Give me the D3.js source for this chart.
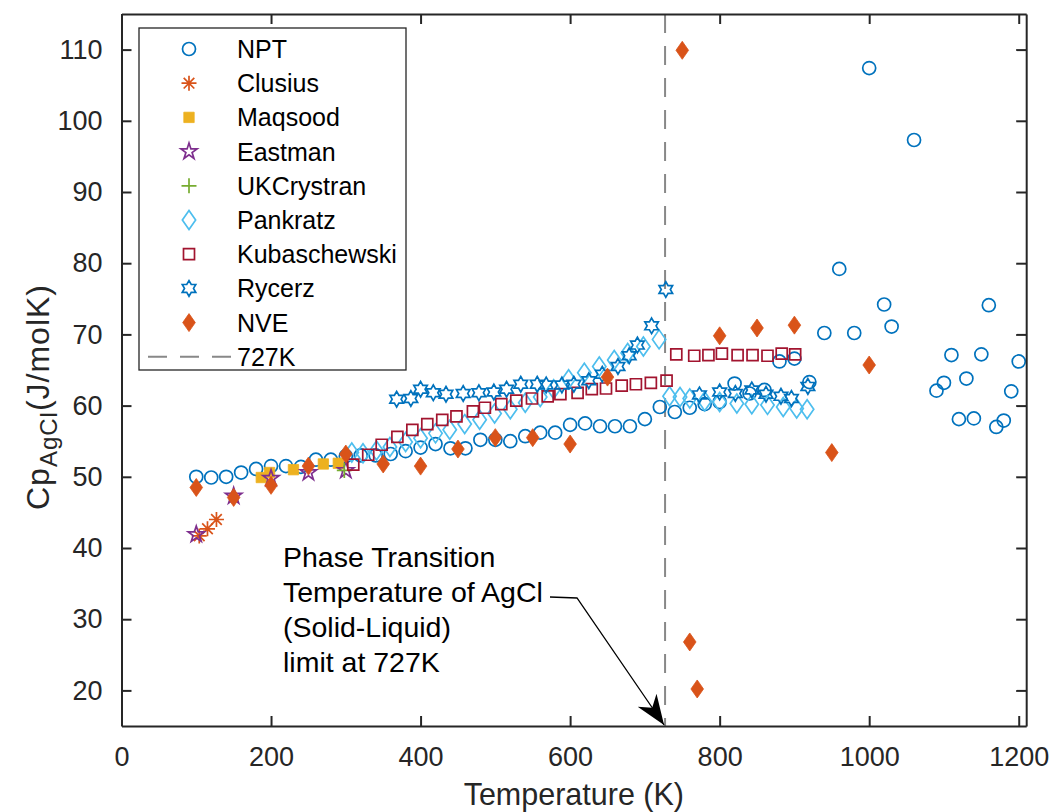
<!DOCTYPE html>
<html>
<head>
<meta charset="utf-8">
<script src="https://cdn.jsdelivr.net/npm/d3@7"></script>
<style>
  body { margin: 0; background: #fff; }
  svg { display: block; font-family: "Liberation Sans", Arial, sans-serif; }
</style>
</head>
<body>
<svg id="chart"></svg>
<script>
// data (T in K, Cp in J/molK)
const nptT = [100, 120, 140, 160, 180, 200, 220, 240, 260, 280, 300, 320, 340, 360, 380, 400, 420, 440, 460, 480, 500, 520, 540, 560, 580, 600, 620, 640, 660, 680, 700, 720, 740, 760, 780, 800, 820, 840, 860, 880, 900, 920, 940, 960, 980, 1000, 1020, 1030, 1060, 1090, 1100, 1110, 1120, 1130, 1140, 1150, 1160, 1170, 1180, 1190, 1200];
const nptCp = [50.0, 49.9, 50.0, 50.6, 51.1, 51.5, 51.5, 51.4, 52.4, 52.4, 52.9, 53.0, 53.0, 53.2, 53.6, 54.1, 54.6, 54.0, 54.0, 55.2, 55.2, 55.0, 55.7, 56.2, 56.2, 57.3, 57.5, 57.1, 57.1, 57.1, 58.1, 59.8, 59.1, 59.7, 60.2, 60.5, 63.1, 61.7, 62.2, 66.2, 66.6, 63.3, 70.2, 79.2, 70.2, 107.4, 74.2, 71.1, 97.3, 62.1, 63.2, 67.1, 58.1, 63.8, 58.2, 67.2, 74.1, 57.0, 57.9, 62.0, 66.2];

const clusiusT = [104, 115, 127];
const clusiusCp = [41.7, 42.7, 44.0];

const maqsoodT = [187, 198, 230, 270, 290];
const maqsoodCp = [49.9, 50.6, 51.0, 51.8, 51.9];

const eastmanT = [100, 150, 200, 250, 300];
const eastmanCp = [41.9, 47.3, 49.8, 50.6, 50.9];

const ukT = [298];
const ukCp = [50.9];

const pankratzT = [308, 323, 341, 359, 380, 400, 420, 439, 459, 479, 499, 520, 540, 560, 578, 598, 619, 639, 659, 677, 698, 719, 733, 747, 760, 780, 800, 823, 843, 864, 885, 903, 917];
const pankratzCp = [53.4, 53.3, 53.7, 54.2, 54.9, 55.4, 56.1, 56.6, 57.4, 58.0, 58.9, 59.5, 60.4, 61.2, 62.3, 63.7, 64.6, 65.5, 66.4, 67.4, 68.3, 69.3, 61.3, 61.2, 61.0, 60.6, 60.5, 60.3, 60.2, 60.1, 59.8, 59.6, 59.5];

const kubT = [310, 330, 348, 369, 389, 409, 429, 448, 470, 486, 508, 528, 549, 570, 587, 610, 629, 648, 669, 688, 708, 729, 742, 766, 785, 803, 824, 844, 864, 883, 901];
const kubCp = [51.7, 53.1, 54.5, 55.6, 56.6, 57.4, 58.0, 58.5, 59.2, 59.7, 60.2, 60.7, 61.0, 61.3, 61.6, 61.8, 62.3, 62.4, 62.8, 63.0, 63.2, 63.5, 67.2, 67.0, 67.1, 67.3, 67.1, 67.1, 67.0, 67.3, 67.2];

const rycerzT = [368, 387, 400, 417, 434, 457, 478, 498, 515, 534, 556, 568, 589, 605, 625, 643, 664, 679, 690, 709, 728, 773, 800, 821, 843, 862, 882, 896, 918];
const rycerzCp = [60.9, 61.0, 62.3, 61.8, 61.6, 61.7, 61.8, 61.9, 62.3, 63.0, 63.0, 62.9, 62.9, 63.0, 63.5, 64.4, 65.5, 67.0, 68.5, 71.2, 76.3, 61.5, 61.9, 61.7, 62.2, 61.6, 61.3, 61.0, 62.7];

const nveT = [100, 150, 200, 250, 300, 350, 400, 450, 500, 550, 600, 650, 750, 760, 770, 800, 850, 900, 950, 1000];
const nveCp = [48.5, 47.1, 48.8, 51.5, 53.2, 51.8, 51.5, 53.9, 55.5, 55.5, 54.6, 64.0, 109.9, 26.8, 20.2, 69.8, 70.9, 71.3, 53.4, 65.7];

const transitionT = 727;
const xTicks = [0, 200, 400, 600, 800, 1000, 1200];
const yTicks = [20, 30, 40, 50, 60, 70, 80, 90, 100, 110];
const noteLines = ["Phase Transition", "Temperature of AgCl", "(Solid-Liquid)", "limit at 727K"];

const width = 1052, height = 812;
const svg = d3.select("#chart").attr("width", width).attr("height", height);

const x = d3.scaleLinear().domain([0, 1210]).range([121.5, 1026.2]);
const y = d3.scaleLinear().domain([15, 115]).range([726, 14]);
const axisColor = "#262626";

// custom marker shapes, size = radius squared
const sym = {
  circle: { draw(c, s) { const r = Math.sqrt(s); c.moveTo(r, 0); c.arc(0, 0, r, 0, 2 * Math.PI); } },
  square: { draw(c, s) { const r = Math.sqrt(s); c.rect(-r, -r, 2 * r, 2 * r); } },
  diamond: { draw(c, s) { const r = Math.sqrt(s), w = r * 0.7; c.moveTo(0, -r); c.lineTo(w, 0); c.lineTo(0, r); c.lineTo(-w, 0); c.closePath(); } },
  plus: { draw(c, s) { const r = Math.sqrt(s); c.moveTo(-r, 0); c.lineTo(r, 0); c.moveTo(0, -r); c.lineTo(0, r); } },
  asterisk: { draw(c, s) {
    const r = Math.sqrt(s);
    for (let i = 0; i < 4; i++) {
      const a = i * Math.PI / 4;
      c.moveTo(-r * Math.cos(a), -r * Math.sin(a)); c.lineTo(r * Math.cos(a), r * Math.sin(a));
    }
  } },
  star: { draw(c, s) {
    const R = Math.sqrt(s), ri = R * 0.382;
    for (let i = 0; i < 10; i++) {
      const a = -Math.PI / 2 + i * Math.PI / 5, rr = i % 2 ? ri : R;
      i ? c.lineTo(rr * Math.cos(a), rr * Math.sin(a)) : c.moveTo(rr * Math.cos(a), rr * Math.sin(a));
    }
    c.closePath();
  } },
  hexagram: { draw(c, s) {
    const R = Math.sqrt(s), ri = R * 0.577;
    for (let i = 0; i < 12; i++) {
      const a = -Math.PI / 2 + i * Math.PI / 6, rr = i % 2 ? ri : R;
      i ? c.lineTo(rr * Math.cos(a), rr * Math.sin(a)) : c.moveTo(rr * Math.cos(a), rr * Math.sin(a));
    }
    c.closePath();
  } }
};

const series = [
  { name: "NPT", T: nptT, Cp: nptCp, type: sym.circle, r: 6.5, color: "#0072BD", fill: false },
  { name: "Clusius", T: clusiusT, Cp: clusiusCp, type: sym.asterisk, r: 7.5, color: "#D95319", fill: false },
  { name: "Maqsood", T: maqsoodT, Cp: maqsoodCp, type: sym.square, r: 5.2, color: "#EDB120", fill: true },
  { name: "Eastman", T: eastmanT, Cp: eastmanCp, type: sym.star, r: 8.5, color: "#7E2F8E", fill: false },
  { name: "UKCrystran", T: ukT, Cp: ukCp, type: sym.plus, r: 7.5, color: "#77AC30", fill: false },
  { name: "Pankratz", T: pankratzT, Cp: pankratzCp, type: sym.diamond, r: 9.5, color: "#4DBEEE", fill: false },
  { name: "Kubaschewski", T: kubT, Cp: kubCp, type: sym.square, r: 5.5, color: "#A2142F", fill: false },
  { name: "Rycerz", T: rycerzT, Cp: rycerzCp, type: sym.hexagram, r: 7.8, color: "#0072BD", fill: false },
  { name: "NVE", T: nveT, Cp: nveCp, type: sym.diamond, r: 9, color: "#D95319", fill: true }
];

const symbolPath = s => d3.symbol().type(s.type).size(s.r * s.r)();

// transition line
svg.append("line")
  .attr("x1", x(transitionT)).attr("x2", x(transitionT))
  .attr("y1", y(115)).attr("y2", y(15))
  .attr("stroke", "#888").attr("stroke-width", 2)
  .attr("stroke-dasharray", "19,13");

// markers
series.forEach(s => {
  svg.append("g")
    .selectAll("path")
    .data(s.T.map((t, i) => ({ t, cp: s.Cp[i] })))
    .join("path")
    .attr("transform", d => `translate(${x(d.t)},${y(d.cp)})`)
    .attr("d", symbolPath(s))
    .attr("fill", s.fill ? s.color : "none")
    .attr("stroke", s.color)
    .attr("stroke-width", s.fill ? 0.8 : 1.7);
});

// axes box with inward ticks, mirrored
const fs = 27;
const gx = svg.append("g").attr("transform", `translate(0,${y(15)})`)
  .call(d3.axisBottom(x).tickValues(xTicks).tickFormat(d3.format("d")).tickSizeInner(-10).tickSizeOuter(0).tickPadding(21));
const gxTop = svg.append("g").attr("transform", `translate(0,${y(115)})`)
  .call(d3.axisTop(x).tickValues(xTicks).tickSizeInner(-10).tickSizeOuter(0).tickFormat(""));
const gy = svg.append("g").attr("transform", `translate(${x(0)},0)`)
  .call(d3.axisLeft(y).tickValues(yTicks).tickSizeInner(-10).tickSizeOuter(0).tickPadding(19));
const gyRight = svg.append("g").attr("transform", `translate(${x(1210)},0)`)
  .call(d3.axisRight(y).tickValues(yTicks).tickSizeInner(-10).tickSizeOuter(0).tickFormat(""));

[gx, gxTop, gy, gyRight].forEach(g => {
  g.select(".domain").attr("stroke", axisColor).attr("stroke-width", 2);
  g.selectAll(".tick line").attr("stroke", axisColor).attr("stroke-width", 2);
  g.selectAll(".tick text").attr("fill", axisColor).style("font-size", fs + "px")
    .style("font-family", '"Liberation Sans", Arial, sans-serif');
});

// axis labels
svg.append("text")
  .attr("x", (x(0) + x(1210)) / 2).attr("y", 805)
  .attr("text-anchor", "middle").attr("fill", axisColor)
  .style("font-size", "30.5px")
  .text("Temperature (K)");

const yl = svg.append("text")
  .attr("transform", `translate(49,${(y(15) + y(115)) / 2 + 27}) rotate(-90)`)
  .attr("text-anchor", "middle").attr("fill", axisColor)
  .style("font-size", "32px").style("letter-spacing", "1px");
yl.append("tspan").text("Cp");
yl.append("tspan").attr("dy", 8).style("font-size", "24px").text("AgCl");
yl.append("tspan").attr("dy", -8).text("(J/molK)");

// annotation
const note = svg.append("text").attr("fill", "#000").style("font-size", "28.5px");
noteLines.forEach((l, i) => {
  note.append("tspan").attr("x", 283).attr("y", 567 + i * 35).text(l);
});
svg.append("defs").append("marker")
  .attr("id", "head").attr("viewBox", "0 0 10 10").attr("refX", 10).attr("refY", 5)
  .attr("markerWidth", 30).attr("markerHeight", 30).attr("markerUnits", "userSpaceOnUse")
  .attr("orient", "auto")
  .append("path").attr("d", "M0,1.2 L10,5 L0,8.8 L3,5 Z").attr("fill", "#000");
svg.append("path")
  .attr("d", `M550,597 L577,598 L${x(transitionT) - 1},${y(15) - 1}`)
  .attr("fill", "none").attr("stroke", "#000").attr("stroke-width", 1.3)
  .attr("marker-end", "url(#head)");

// legend
const lg = svg.append("g");
lg.append("rect").attr("x", 139).attr("y", 28).attr("width", 267).attr("height", 342)
  .attr("fill", "#fff").attr("stroke", "#262626").attr("stroke-width", 1.3);
const rowY = i => 49 + i * 34.2;
series.forEach((s, i) => {
  lg.append("path")
    .attr("transform", `translate(189,${rowY(i)})`)
    .attr("d", symbolPath(s))
    .attr("fill", s.fill ? s.color : "none")
    .attr("stroke", s.color)
    .attr("stroke-width", s.fill ? 0.8 : 1.7);
  lg.append("text").attr("x", 237).attr("y", rowY(i)).attr("dy", "0.36em")
    .style("font-size", "25px").attr("fill", "#000").text(s.name);
});
lg.append("line").attr("x1", 148).attr("x2", 231).attr("y1", rowY(9)).attr("y2", rowY(9))
  .attr("stroke", "#888").attr("stroke-width", 2).attr("stroke-dasharray", "19,13");
lg.append("text").attr("x", 237).attr("y", rowY(9)).attr("dy", "0.36em")
  .style("font-size", "25px").attr("fill", "#000").text("727K");
</script>
</body>
</html>
